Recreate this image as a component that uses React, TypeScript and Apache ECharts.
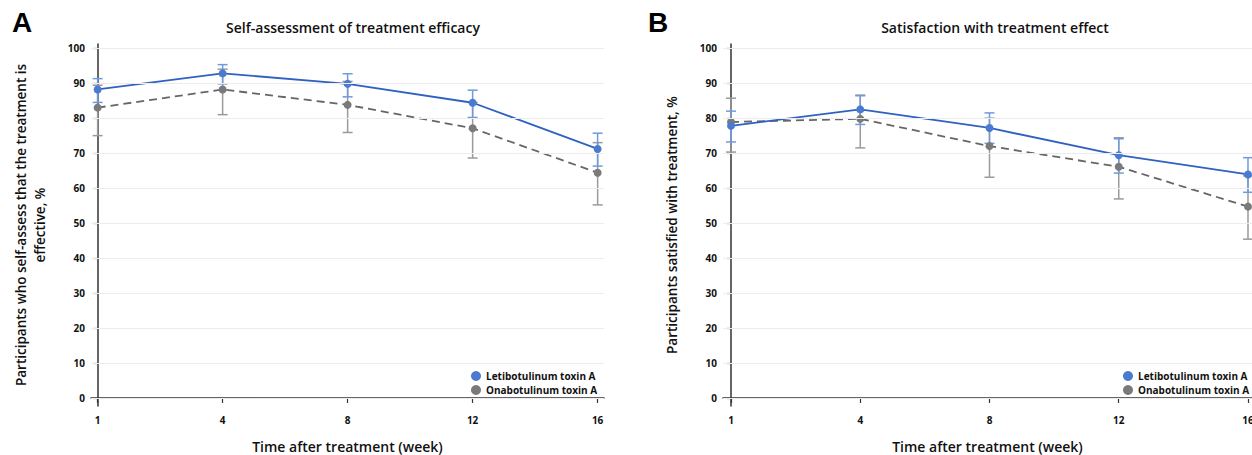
import React, { useEffect, useRef } from "react";
import * as echarts from "echarts";

const weeks = ["1", "4", "8", "12", "16"];
const seriesNames = ["Letibotulinum toxin A", "Onabotulinum toxin A"];
const yTicks = [0, 10, 20, 30, 40, 50, 60, 70, 80, 90, 100];

// Panel A: self-assessment of treatment efficacy
const aLeti = [88.2, 92.8, 89.8, 84.4, 71.2];
const aLetiLo = [84.5, 89.8, 86.1, 80.2, 66.3];
const aLetiHi = [91.3, 95.3, 92.7, 88.0, 75.7];
const aOna = [83.0, 88.2, 83.8, 77.1, 64.4];
const aOnaLo = [75.0, 81.0, 75.9, 68.6, 55.2];
const aOnaHi = [89.4, 94.0, 90.5, 84.5, 73.0];

// Panel B: satisfaction with treatment effect
const bLeti = [77.8, 82.5, 77.2, 69.4, 63.9];
const bLetiLo = [73.2, 78.2, 72.8, 64.3, 58.8];
const bLetiHi = [82.0, 86.4, 81.5, 74.1, 68.7];
const bOna = [78.9, 79.8, 72.0, 66.1, 54.7];
const bOnaLo = [70.3, 71.5, 63.1, 56.9, 45.4];
const bOnaHi = [85.7, 86.6, 80.0, 74.4, 63.5];

const BLUE = "#2f62c0";
const BLUE_MK = "#4a7bd0";
const BLUE_ERR = "#6f9ade";
const GRAY = "#666666";
const GRAY_MK = "#7a7a7a";
const GRAY_ERR = "#9a9a9a";
const FONT = "Open Sans";

function errSeries(idx: number, lo: number[], hi: number[], color: string) {
  return {
    type: "custom",
    xAxisIndex: idx,
    yAxisIndex: idx,
    silent: true,
    z: 2,
    data: lo.map((l, i) => [i, l, hi[i]]),
    renderItem: (params: any, api: any) => {
      const x = api.value(0);
      const p1 = api.coord([x, api.value(1)]);
      const p2 = api.coord([x, api.value(2)]);
      const w = 5;
      const style = { stroke: color, lineWidth: 1.5 };
      return {
        type: "group",
        children: [
          { type: "line", shape: { x1: p1[0], y1: p1[1], x2: p2[0], y2: p2[1] }, style },
          { type: "line", shape: { x1: p1[0] - w, y1: p1[1], x2: p1[0] + w, y2: p1[1] }, style },
          { type: "line", shape: { x1: p2[0] - w, y1: p2[1], x2: p2[0] + w, y2: p2[1] }, style },
        ],
      };
    },
  };
}

function lineSeries(idx: number, name: string, vals: number[], color: string, mk: string, dashed: boolean) {
  return {
    type: "line",
    name,
    xAxisIndex: idx,
    yAxisIndex: idx,
    data: vals.map((v, i) => [i, v]),
    symbol: "circle",
    symbolSize: 8,
    z: 3,
    lineStyle: { color, width: 1.8, type: dashed ? [8, 5] : "solid" },
    itemStyle: { color: mk },
  };
}

function gridLines(idx: number) {
  return {
    type: "line",
    xAxisIndex: idx,
    yAxisIndex: idx,
    data: [],
    silent: true,
    z: 1,
    markLine: {
      silent: true,
      symbol: "none",
      label: { show: false },
      lineStyle: { color: "#ececec", width: 1.2, type: "solid" },
      data: yTicks.map((t) => ({ yAxis: t })),
    },
  };
}

function xAxis(idx: number, min: number, max: number) {
  return {
    type: "value",
    gridIndex: idx,
    min,
    max,
    axisLine: { show: true, lineStyle: { color: "#333", width: 1.5 } },
    axisTick: { show: true, customValues: [0, 1, 2, 3, 4], length: 5, inside: false, lineStyle: { color: "#333", width: 1.2 } },
    axisLabel: {
      customValues: [0, 1, 2, 3, 4],
      formatter: (v: number) => weeks[Math.round(v)],
      color: "#111",
      fontWeight: "bold",
      fontSize: 10,
      fontFamily: FONT,
      margin: 9,
    },
    splitLine: { show: false },
    name: "Time after treatment (week)",
    nameLocation: "middle",
    nameGap: 33,
    nameTextStyle: { color: "#111", fontSize: 14, fontWeight: 600, fontFamily: FONT },
  };
}

function yAxis(idx: number) {
  return {
    type: "value",
    gridIndex: idx,
    min: -2.3,
    max: 101.2,
    axisLine: { show: true, lineStyle: { color: "#333", width: 1.5 } },
    axisTick: { show: true, customValues: yTicks, length: 4, lineStyle: { color: "#333", width: 1.2 } },
    axisLabel: {
      customValues: yTicks,
      color: "#111",
      fontWeight: "bold",
      fontSize: 10,
      fontFamily: FONT,
      margin: 6,
    },
    splitLine: { show: false },
  };
}

export default function App() {
  const ref = useRef<HTMLDivElement>(null);
  useEffect(() => {
    document.body.style.margin = "0";
    if (!ref.current) return;
    const chart = echarts.init(ref.current, null, { renderer: "svg" });
    const legendStyle = {
      data: seriesNames,
      orient: "vertical",
      top: 366,
      itemGap: 4,
      itemWidth: 10,
      itemHeight: 10,
      icon: "circle",
      selectedMode: false,
      textStyle: { fontSize: 10, fontWeight: "bold", color: "#111", fontFamily: FONT },
    };
    const option: any = {
      animation: false,
      backgroundColor: "#ffffff",
      title: [
        {
          text: "Self-assessment of treatment efficacy",
          left: 348,
          top: 15,
          textAlign: "center",
          textStyle: { fontSize: 14, fontWeight: 600, color: "#111", fontFamily: FONT },
        },
        {
          text: "Satisfaction with treatment effect",
          left: 990,
          top: 15,
          textAlign: "center",
          textStyle: { fontSize: 14, fontWeight: 600, color: "#111", fontFamily: FONT },
        },
      ],
      grid: [
        { left: 91, top: 44, width: 513, height: 362, outerBoundsMode: "none", containLabel: false },
        { left: 723, top: 44, width: 529, height: 362, outerBoundsMode: "none", containLabel: false },
      ],
      xAxis: [xAxis(0, -0.053, 4.051), xAxis(1, -0.062, 4.031)],
      yAxis: [yAxis(0), yAxis(1)],
      legend: [
        { ...legendStyle, left: 466 },
        { ...legendStyle, left: 1118 },
      ],
      graphic: [
        { type: "text", left: 12, top: 8, style: { text: "A", font: "bold 28px Arial", fill: "#000" } },
        { type: "text", left: 648, top: 8, style: { text: "B", font: "bold 28px Arial", fill: "#000" } },
        {
          type: "text",
          x: 30,
          y: 225,
          rotation: Math.PI / 2,
          style: {
            text: "Participants who self-assess that the treatment is\neffective, %",
            font: `600 13.5px "${FONT}"`,
            fill: "#111",
            align: "center",
            verticalAlign: "middle",
            lineHeight: 19,
          },
        },
        {
          type: "text",
          x: 672,
          y: 225,
          rotation: Math.PI / 2,
          style: {
            text: "Participants satisfied with treatment, %",
            font: `600 13.5px "${FONT}"`,
            fill: "#111",
            align: "center",
            verticalAlign: "middle",
          },
        },
      ],
      series: [
        gridLines(0),
        gridLines(1),
        errSeries(0, aOnaLo, aOnaHi, GRAY_ERR),
        errSeries(0, aLetiLo, aLetiHi, BLUE_ERR),
        lineSeries(0, seriesNames[1], aOna, GRAY, GRAY_MK, true),
        lineSeries(0, seriesNames[0], aLeti, BLUE, BLUE_MK, false),
        errSeries(1, bOnaLo, bOnaHi, GRAY_ERR),
        errSeries(1, bLetiLo, bLetiHi, BLUE_ERR),
        lineSeries(1, seriesNames[1], bOna, GRAY, GRAY_MK, true),
        lineSeries(1, seriesNames[0], bLeti, BLUE, BLUE_MK, false),
      ],
    };
    chart.setOption(option);
    return () => chart.dispose();
  }, []);
  return <div ref={ref} style={{ width: 1252, height: 455 }} />;
}
